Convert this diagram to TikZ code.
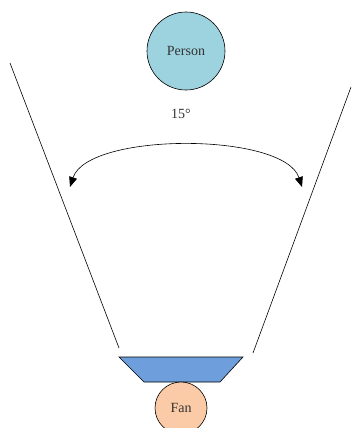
\documentclass[tikz,border=0pt]{standalone}
\usepackage{fontspec}
\setmainfont{Liberation Serif}
\usetikzlibrary{arrows.meta}
\definecolor{personfill}{HTML}{9DD3DF}
\definecolor{trapfill}{HTML}{6F9EDC}
\definecolor{fanfill}{HTML}{FACBA6}
\tikzset{
  lbl/.style={font=\fontsize{14}{16}\selectfont, text=black!80},
  circ/.style={circle, draw=black, line width=0.6pt, inner sep=0pt, lbl},
  edge/.style={line width=0.6pt, black},
}
\begin{document}
\begin{tikzpicture}[x=1pt,y=-1pt]
\useasboundingbox (0,0) rectangle (351,428);
\clip (0,0) rectangle (351,428);
% side lines
\coordinate (l1) at (10,63);
\coordinate (l2) at (119,348);
\coordinate (r1) at (351,87);
\coordinate (r2) at (253,353);
\draw[edge] (l1) -- (l2);
\draw[edge] (r1) -- (r2);
% person
\node[circ, fill=personfill, minimum size=78pt] (person) at (186,51) {Person};
\node[lbl] (angle) at (181,114) {15°};
% arc
\coordinate (al) at (70,187);
\coordinate (ar) at (302,187);
\draw[edge, {Triangle[length=10pt,width=8pt]}-{Triangle[length=10pt,width=8pt]}] (al) .. controls (88,132) and (284,132) .. (ar);
% trapezoid
\coordinate (t1) at (119,357);
\coordinate (t2) at (243,357);
\coordinate (t3) at (220,382);
\coordinate (t4) at (144,382);
\draw[edge, fill=trapfill] (t1) -- (t2) -- (t3) -- (t4) -- cycle;
% fan
\node[circ, fill=fanfill, minimum size=52pt] (fan) at (181,408) {Fan};
\end{tikzpicture}
\end{document}
